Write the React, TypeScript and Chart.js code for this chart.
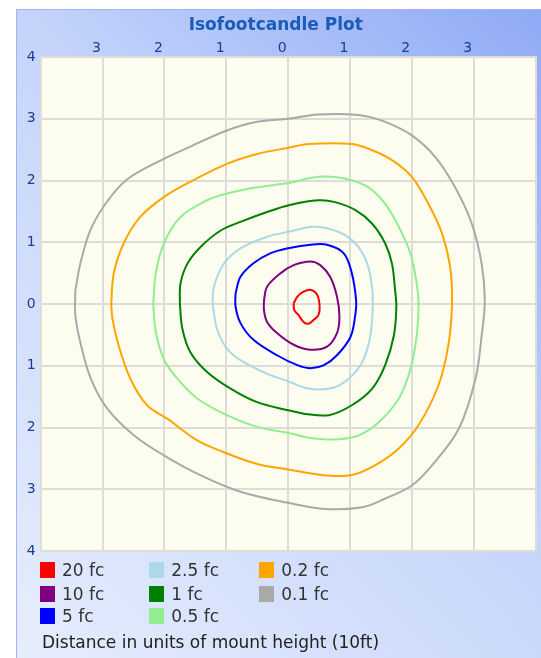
import React, { useEffect, useRef } from 'react';
import { Chart, registerables } from 'chart.js';

Chart.register(...registerables);

const chartTitle = 'Isofootcandle Plot';
const footerText = 'Distance in units of mount height (10ft)';
const xTickLabels = ['', '3', '2', '1', '0', '1', '2', '3', ''];
const yTickLabels = ['4', '3', '2', '1', '0', '1', '2', '3', '4'];
const levelLabels = ['20 fc', '10 fc', '5 fc', '2.5 fc', '1 fc', '0.5 fc', '0.2 fc', '0.1 fc'];
const levelColors = ['#ff0000', '#800080', '#0000ff', '#add8e6', '#008000', '#90ee90', '#ffa500', '#a9a9a9'];

const fc20: [number, number][] = [
  [0.09, 0.01], [0.15, 0.12], [0.25, 0.2], [0.36, 0.23], [0.47, 0.15], [0.51, -0.04],
  [0.49, -0.18], [0.41, -0.26], [0.33, -0.32], [0.25, -0.29], [0.17, -0.18], [0.1, -0.1],
];
const fc10: [number, number][] = [
  [-0.39, 0.06], [-0.34, 0.28], [-0.12, 0.5], [0.09, 0.63], [0.36, 0.69], [0.52, 0.63],
  [0.68, 0.44], [0.79, 0.12], [0.83, -0.21], [0.79, -0.47], [0.63, -0.69], [0.36, -0.74],
  [0.09, -0.66], [-0.18, -0.47], [-0.34, -0.29], [-0.39, -0.1],
];
const fc5: [number, number][] = [
  [-0.85, 0.17], [-0.77, 0.44], [-0.56, 0.66], [-0.29, 0.82], [-0.02, 0.9], [0.36, 0.96],
  [0.63, 0.96], [0.9, 0.82], [1.03, 0.5], [1.1, 0.06], [1.09, -0.15], [1.01, -0.53],
  [0.79, -0.83], [0.58, -0.99], [0.36, -1.04], [0.15, -0.99], [-0.18, -0.83], [-0.56, -0.58],
  [-0.77, -0.31], [-0.85, -0.04],
];
const fc2_5: [number, number][] = [
  [-1.22, 0], [-1.2, 0.28], [-1.04, 0.65], [-0.77, 0.9], [-0.34, 1.09], [0.01, 1.17],
  [0.39, 1.25], [0.66, 1.22], [0.93, 1.11], [1.14, 0.92], [1.28, 0.65], [1.35, 0.33],
  [1.37, 0], [1.33, -0.51], [1.2, -0.94], [0.98, -1.21], [0.71, -1.36], [0.33, -1.37],
  [0.0, -1.25], [-0.34, -1.13], [-0.77, -0.91], [-0.99, -0.72], [-1.15, -0.4],
];
const fc1: [number, number][] = [
  [-1.75, 0], [-1.74, 0.33], [-1.63, 0.65], [-1.42, 0.92], [-1.09, 1.19], [-0.77, 1.33],
  [-0.34, 1.49], [0.01, 1.6], [0.49, 1.68], [0.76, 1.65], [1.09, 1.52], [1.36, 1.3],
  [1.57, 0.98], [1.68, 0.65], [1.73, 0.22], [1.75, -0.05], [1.71, -0.51], [1.57, -0.99],
  [1.36, -1.37], [1.03, -1.64], [0.66, -1.8], [0.28, -1.78], [0.0, -1.72], [-0.5, -1.59],
  [-0.93, -1.37], [-1.31, -1.1], [-1.58, -0.78], [-1.71, -0.4],
];
const fc0_5: [number, number][] = [
  [-2.18, 0], [-2.14, 0.49], [-2.01, 0.98], [-1.74, 1.41], [-1.31, 1.68], [-0.99, 1.79],
  [-0.5, 1.89], [0.01, 1.96], [0.49, 2.06], [0.93, 2.03], [1.3, 1.89], [1.57, 1.62],
  [1.79, 1.25], [1.98, 0.81], [2.08, 0.33], [2.11, 0], [2.08, -0.51], [1.98, -1.05],
  [1.79, -1.53], [1.46, -1.92], [1.14, -2.13], [0.82, -2.19], [0.44, -2.18], [0.0, -2.09],
  [-0.5, -1.99], [-0.99, -1.8], [-1.47, -1.53], [-1.79, -1.21], [-2.01, -0.89], [-2.14, -0.45],
];
const fc0_2: [number, number][] = [
  [-2.86, 0], [-2.82, 0.49], [-2.66, 0.98], [-2.39, 1.41], [-2.01, 1.73], [-1.58, 1.98],
  [-0.99, 2.27], [-0.5, 2.43], [0.01, 2.53], [0.33, 2.59], [1.03, 2.59], [1.36, 2.49],
  [1.68, 2.33], [2.0, 2.06], [2.27, 1.62], [2.49, 1.14], [2.62, 0.6], [2.65, 0],
  [2.59, -0.67], [2.43, -1.32], [2.11, -1.96], [1.79, -2.34], [1.41, -2.61], [1.03, -2.77],
  [0.55, -2.77], [0.23, -2.72], [0.0, -2.68], [-0.5, -2.59], [-1.04, -2.4], [-1.47, -2.21],
  [-1.95, -1.86], [-2.28, -1.64], [-2.55, -1.21], [-2.74, -0.67], [-2.84, -0.24],
];
const fc0_1: [number, number][] = [
  [-3.44, 0.22], [-3.36, 0.65], [-3.2, 1.19], [-2.94, 1.64], [-2.6, 2.02], [-2.01, 2.35],
  [-1.58, 2.55], [-0.99, 2.81], [-0.5, 2.95], [0.01, 3.0], [0.49, 3.07], [1.14, 3.06],
  [1.57, 2.95], [2.0, 2.73], [2.38, 2.38], [2.7, 1.89], [2.97, 1.3], [3.13, 0.65],
  [3.18, 0.05], [3.13, -0.51], [3.03, -1.21], [2.76, -2.02], [2.33, -2.61], [2.0, -2.94],
  [1.57, -3.15], [1.2, -3.29], [0.6, -3.32], [0.0, -3.22], [-0.77, -3.04], [-1.42, -2.77],
  [-2.01, -2.45], [-2.49, -2.13], [-2.92, -1.7], [-3.19, -1.21], [-3.36, -0.62], [-3.44, -0.18],
];

const contours = [fc20, fc10, fc5, fc2_5, fc1, fc0_5, fc0_2, fc0_1];

const FONT = "'DejaVu Sans', Verdana, sans-serif";
const TICK_COLOR = '#1a3c96';
const GRID_COLOR = '#dcdcd8';

const plotBackground = {
  id: 'plotBackground',
  beforeDraw(chart: any) {
    const { ctx, chartArea } = chart;
    if (!chartArea) return;
    ctx.save();
    ctx.fillStyle = '#fdfdef';
    ctx.fillRect(chartArea.left, chartArea.top, chartArea.right - chartArea.left, chartArea.bottom - chartArea.top);
    ctx.restore();
  },
};

export default function App() {
  const canvasRef = useRef<HTMLCanvasElement | null>(null);

  useEffect(() => {
    if (!canvasRef.current) return;
    const datasets = contours.map((pts, i) => ({
      label: levelLabels[i],
      data: [...pts, pts[0]].map(([x, y]) => ({ x, y })),
      showLine: true,
      borderColor: levelColors[i],
      backgroundColor: levelColors[i],
      borderWidth: 2,
      pointRadius: 0,
      tension: 0.35,
      fill: false,
    }));
    const chart = new Chart(canvasRef.current, {
      type: 'scatter',
      data: { datasets },
      plugins: [plotBackground],
      options: {
        responsive: false,
        maintainAspectRatio: false,
        animation: false,
        events: [],
        layout: { padding: { left: 0, right: 5.5, top: 0, bottom: 107 } },
        plugins: {
          legend: { display: false },
          tooltip: { enabled: false },
          title: {
            display: true,
            text: chartTitle,
            color: '#1a5cb8',
            font: { family: FONT, size: 17, weight: 'bold' },
            padding: { top: 6, bottom: 0 },
          },
        },
        scales: {
          x: {
            type: 'linear',
            position: 'top',
            min: -4,
            max: 4,
            afterFit(scale: any) {
              scale.height = 21.6;
            },
            ticks: {
              stepSize: 1,
              autoSkip: false,
              maxRotation: 0,
              color: TICK_COLOR,
              font: { family: FONT, size: 14 },
              padding: 0,
              labelOffset: -6,
              callback: (v: any) => xTickLabels[Math.round(Number(v)) + 4] ?? '',
            },
            grid: { color: GRID_COLOR, lineWidth: 2, drawTicks: false },
            border: { display: true, color: GRID_COLOR, width: 2 },
          },
          y: {
            type: 'linear',
            min: -4,
            max: 4,
            afterFit(scale: any) {
              scale.width = 24.7;
            },
            ticks: {
              stepSize: 1,
              autoSkip: false,
              color: TICK_COLOR,
              font: { family: FONT, size: 14 },
              padding: 5,
              callback: (v: any) => yTickLabels[Math.round(Number(v)) + 4] ?? '',
            },
            grid: { color: GRID_COLOR, lineWidth: 2, drawTicks: false },
            border: { display: true, color: GRID_COLOR, width: 2 },
          },
        },
      },
    });
    return () => chart.destroy();
  }, []);

  const colLeft = [24, 133.3, 243.3];
  const rowTop = [553.4, 576.5, 599];

  return (
    <div
      style={{
        position: 'absolute',
        left: 16,
        top: 9,
        width: 525,
        height: 649,
        boxSizing: 'border-box',
        borderLeft: '1px solid #9fb6f1',
        borderTop: '1px solid #9fb6f1',
        background: 'linear-gradient(225deg, #8fa9f5 0%, #c4d4fa 45%, #e6edfd 100%)',
        overflow: 'hidden',
        fontFamily: FONT,
      }}
    >
      <canvas ref={canvasRef} width={525} height={649} style={{ position: 'absolute', left: -1, top: -1 }} />
      {levelLabels.map((lab, i) => {
        const col = Math.floor(i / 3);
        const row = i % 3;
        return (
          <div
            key={lab}
            style={{
              position: 'absolute',
              left: colLeft[col] - 1,
              top: rowTop[row] - 1,
              height: 16,
              display: 'flex',
              alignItems: 'center',
              fontSize: 17,
              color: '#333333',
              whiteSpace: 'nowrap',
            }}
          >
            <span style={{ display: 'inline-block', width: 15, height: 16, background: levelColors[i], marginRight: 7 }} />
            <span>{lab}</span>
          </div>
        );
      })}
      <div
        style={{
          position: 'absolute',
          left: 25,
          top: 622,
          fontSize: 17,
          lineHeight: '20px',
          color: '#222222',
          whiteSpace: 'nowrap',
        }}
      >
        {footerText}
      </div>
    </div>
  );
}
